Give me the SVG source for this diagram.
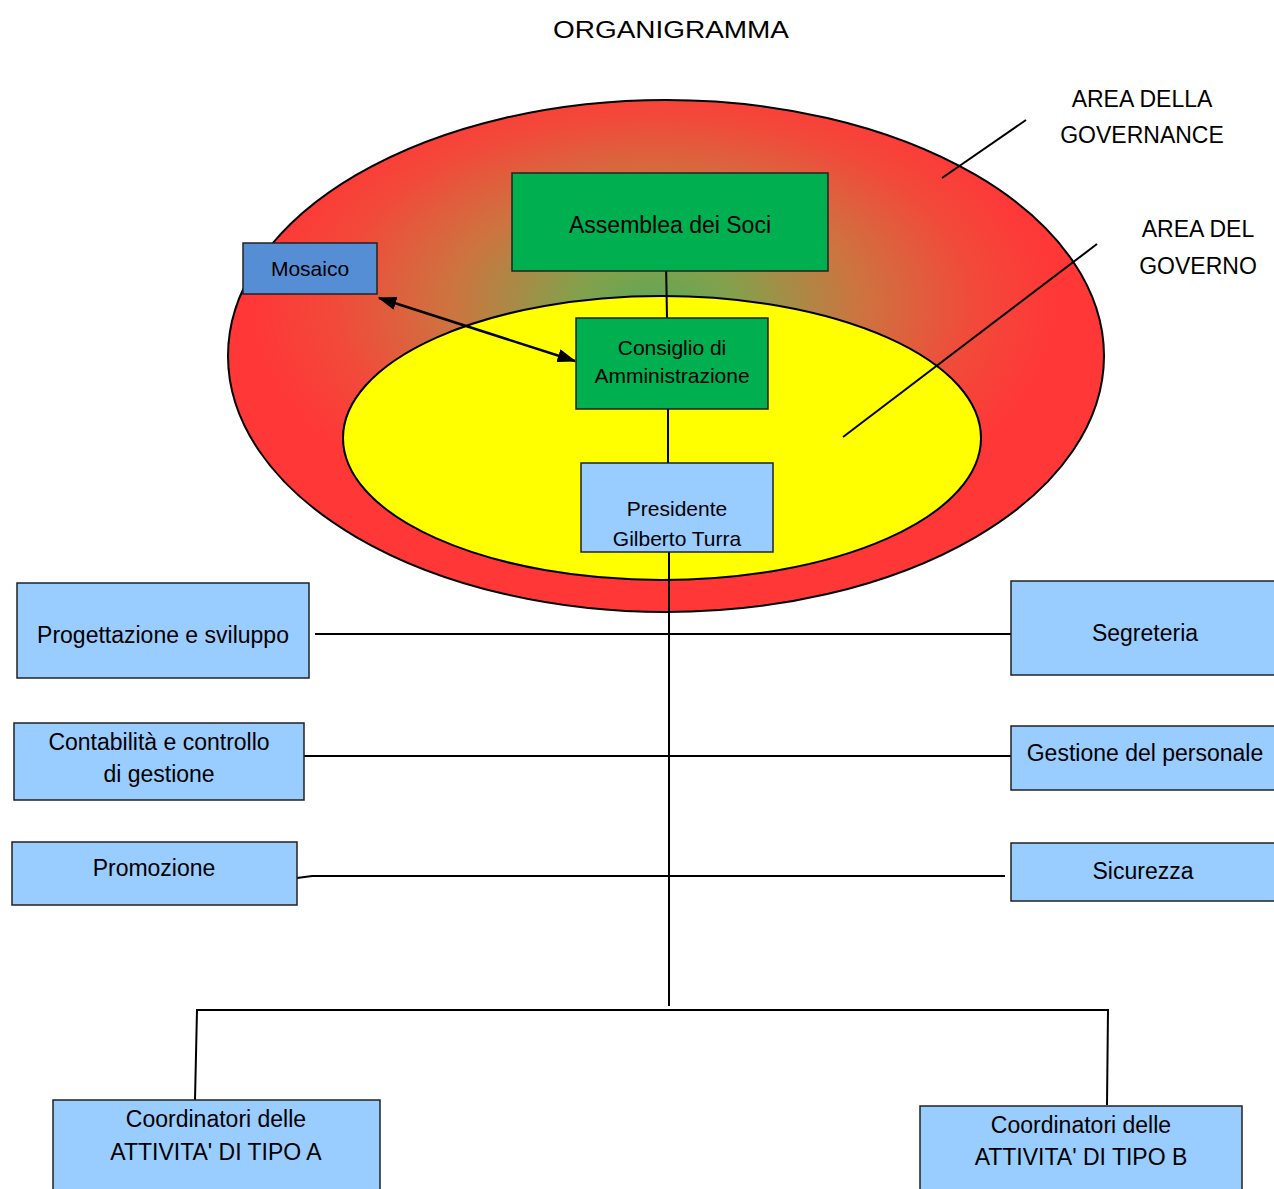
<svg xmlns="http://www.w3.org/2000/svg" width="1274" height="1189" viewBox="0 0 1274 1189">
<style>
text{font-family:"Liberation Sans",Arial,sans-serif;fill:#000;text-anchor:middle;font-size:23px}
.box{stroke:#222;stroke-width:1.5}
.blue{fill:#99ccff}
.green{fill:#00b050}
.ln{stroke:#000;stroke-width:2;fill:none}
.sm{font-size:21px}
</style>
<defs>
<radialGradient id="gov" cx="0.487" cy="0.4" r="0.46" fx="0.487" fy="0.4">
<stop offset="0" stop-color="#5fa855"/>
<stop offset="0.2" stop-color="#84a04c"/>
<stop offset="0.5" stop-color="#cc7540"/>
<stop offset="0.8" stop-color="#f2493a"/>
<stop offset="1" stop-color="#ff3737"/>
</radialGradient>
<marker id="ah" viewBox="0 0 14 10" refX="13" refY="5" markerWidth="7.5" markerHeight="5.4" orient="auto-start-reverse" markerUnits="strokeWidth"><path d="M0,0L14,5L0,10z" fill="#000"/></marker>
</defs>
<rect width="1274" height="1189" fill="#fff"/>
<text x="671" y="38" font-size="29" textLength="236" lengthAdjust="spacingAndGlyphs">ORGANIGRAMMA</text>
<g id="area-governance">
<ellipse cx="666" cy="356" rx="438" ry="256" fill="url(#gov)" stroke="#000" stroke-width="2"/>
</g>
<g id="area-governo">
<ellipse cx="662" cy="438" rx="319" ry="142" fill="#ffff00" stroke="#000" stroke-width="2"/>
</g>
<g id="labels">
<text x="1142" y="107">AREA DELLA</text>
<text x="1142" y="143">GOVERNANCE</text>
<text x="1198" y="237">AREA DEL</text>
<text x="1198" y="274">GOVERNO</text>
</g>
<g id="connectors">
<line class="ln" x1="1026" y1="120" x2="942" y2="178"/>
<line class="ln" x1="1097" y1="244" x2="843" y2="437"/>
<line class="ln" x1="666" y1="262" x2="667" y2="318"/>
<line class="ln" x1="668" y1="409" x2="668" y2="463"/>
<line class="ln" x1="669" y1="552" x2="669" y2="1006"/>
<line class="ln" x1="315" y1="634" x2="1011" y2="634"/>
<line class="ln" x1="304" y1="756" x2="1011" y2="756"/>
<path class="ln" d="M297,878 L312,876 L1005,876"/>
<path class="ln" d="M195,1100 L197,1010 L1108,1010 L1107,1105"/>
<line stroke="#000" stroke-width="2.5" x1="379" y1="298" x2="575" y2="361" marker-start="url(#ah)" marker-end="url(#ah)"/>
</g>
<g id="assemblea">
<rect class="box green" x="512" y="173" width="316" height="98"/>
<text x="670" y="233">Assemblea dei Soci</text>
</g>
<g id="mosaico">
<rect class="box" fill="#558ed5" x="243" y="243" width="134" height="51"/>
<text class="sm" x="310" y="276">Mosaico</text>
</g>
<g id="consiglio">
<rect class="box green" x="576" y="318" width="192" height="91"/>
<text class="sm" x="672" y="355">Consiglio di</text>
<text class="sm" x="672" y="383">Amministrazione</text>
</g>
<g id="presidente">
<rect class="box blue" x="581" y="463" width="192" height="89"/>
<text class="sm" x="677" y="516">Presidente</text>
<text class="sm" x="677" y="546">Gilberto Turra</text>
</g>
<g id="progettazione">
<rect class="box blue" x="17" y="583" width="292" height="95"/>
<text x="163" y="643">Progettazione e sviluppo</text>
</g>
<g id="contabilita">
<rect class="box blue" x="14" y="723" width="290" height="77"/>
<text x="159" y="750">Contabilità e controllo</text>
<text x="159" y="782">di gestione</text>
</g>
<g id="promozione">
<rect class="box blue" x="12" y="842" width="285" height="63"/>
<text x="154" y="876">Promozione</text>
</g>
<g id="segreteria">
<rect class="box blue" x="1011" y="581" width="270" height="94"/>
<text x="1145" y="641">Segreteria</text>
</g>
<g id="personale">
<rect class="box blue" x="1011" y="726" width="270" height="64"/>
<text x="1145" y="761">Gestione del personale</text>
</g>
<g id="sicurezza">
<rect class="box blue" x="1011" y="843" width="270" height="58"/>
<text x="1143" y="879">Sicurezza</text>
</g>
<g id="coord-a">
<rect class="box blue" x="53" y="1100" width="327" height="95"/>
<text x="216" y="1127">Coordinatori delle</text>
<text x="216" y="1160">ATTIVITA' DI TIPO A</text>
</g>
<g id="coord-b">
<rect class="box blue" x="920" y="1106" width="322" height="95"/>
<text x="1081" y="1133">Coordinatori delle</text>
<text x="1081" y="1165">ATTIVITA' DI TIPO B</text>
</g>
</svg>
